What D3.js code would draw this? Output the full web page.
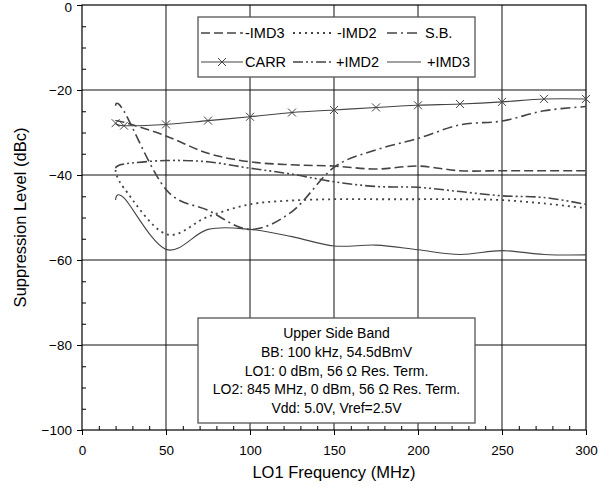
<!DOCTYPE html>
<html>
<head>
<meta charset="utf-8">
<script src="https://cdn.jsdelivr.net/npm/d3@7"></script>
<style>
  body { margin: 0; background: #fff; }
  svg { font-family: "Liberation Sans", Arial, sans-serif; }
  .axis path { display: none; }
  .axis line { stroke: #000; }
  .axis text { font-size: 13.5px; fill: #000; }
</style>
</head>
<body>
<div id="chart"></div>
<script>
// frequency points (MHz)
var freqs = [20, 25, 50, 75, 100, 125, 150, 175, 200, 225, 250, 275, 300];

// suppression levels (dBc)
var imd3Minus = [-27.3, -27.6, -30.8, -34.9, -36.9, -37.6, -37.9, -38.6, -37.9, -39.0, -39.0, -39.0, -39.0];
var imd2Minus = [-38.8, -43.1, -53.9, -49.8, -46.9, -46.0, -45.7, -45.7, -45.7, -45.7, -45.9, -46.7, -47.8];
var sideBand  = [-23.7, -25.0, -43.4, -48.3, -52.8, -48.6, -38.2, -34.1, -31.4, -28.2, -27.3, -24.9, -23.9];
var carr      = [-27.8, -28.4, -28.1, -27.2, -26.3, -25.3, -24.7, -24.1, -23.6, -23.3, -22.8, -22.1, -22.1];
var imd2Plus  = [-38.4, -37.4, -36.6, -36.9, -38.4, -39.8, -41.6, -42.7, -42.9, -43.9, -44.9, -45.3, -46.9];
var imd3Plus  = [-45.9, -45.4, -57.5, -52.8, -52.8, -54.5, -56.7, -56.5, -57.6, -58.7, -57.8, -58.7, -58.8];

var xTicks = [0, 50, 100, 150, 200, 250, 300];
var yTicks = [0, -20, -40, -60, -80, -100];

var notes = [
  "Upper Side Band",
  "BB: 100 kHz, 54.5dBmV",
  "LO1: 0 dBm, 56 \u03A9 Res. Term.",
  "LO2: 845 MHz, 0 dBm, 56 \u03A9 Res. Term.",
  "Vdd: 5.0V, Vref=2.5V"
];

var svgWidth = 606, svgHeight = 486;
var margin = {top: 5, right: 20, bottom: 56, left: 82};
var width = svgWidth - margin.left - margin.right;   // 504
var height = svgHeight - margin.top - margin.bottom; // 425

var svg = d3.select("#chart").append("svg")
  .attr("width", svgWidth)
  .attr("height", svgHeight);

var g = svg.append("g")
  .attr("transform", `translate(${margin.left}, ${margin.top})`);

var x = d3.scaleLinear().domain([0, 300]).range([0, width]);
var y = d3.scaleLinear().domain([-100, 0]).range([height, 0]);

// grid lines
g.append("g")
  .selectAll("line")
  .data([50, 100, 150, 200, 250])
  .enter().append("line")
  .attr("x1", d => x(d)).attr("x2", d => x(d))
  .attr("y1", 0).attr("y2", height)
  .attr("stroke", "#111").attr("stroke-width", 1);

g.append("g")
  .selectAll("line")
  .data([-20, -40, -60, -80])
  .enter().append("line")
  .attr("x1", 0).attr("x2", width)
  .attr("y1", d => y(d)).attr("y2", d => y(d))
  .attr("stroke", "#111").attr("stroke-width", 1);

// minor ticks (inside)
g.append("g").attr("class", "axis")
  .call(d3.axisLeft(y).tickValues(d3.range(-95, 0, 5).filter(v => v % 20 != 0)).tickSize(-4).tickFormat(""));
g.append("g").attr("class", "axis")
  .attr("transform", `translate(0, ${height})`)
  .call(d3.axisBottom(x).tickValues(d3.range(10, 300, 10).filter(v => v % 50 != 0)).tickSize(-4).tickFormat(""));

// major ticks
var yAxis = g.append("g").attr("class", "axis")
  .call(d3.axisLeft(y).tickValues(yTicks).tickSize(5).tickPadding(5).tickFormat(d3.format("d")));
yAxis.selectAll("text").filter(d => d == 0).attr("dy", "0.45em");
g.append("g").attr("class", "axis")
  .attr("transform", `translate(0, ${height})`)
  .call(d3.axisBottom(x).tickValues(xTicks).tickSize(5).tickPadding(10).tickFormat(d3.format("d")));

// frame
g.append("rect")
  .attr("x", 0).attr("y", 0)
  .attr("width", width).attr("height", height)
  .attr("fill", "none").attr("stroke", "#000").attr("stroke-width", 1.2);

var series = [
  {name: "-IMD3", values: imd3Minus, dash: "9,4", w: 1.6},
  {name: "-IMD2", values: imd2Minus, dash: "2,4", w: 1.8},
  {name: "S.B.", values: sideBand, dash: "10,4,2,4", w: 1.6},
  {name: "CARR", values: carr, dash: null, w: 1.1, marker: true},
  {name: "+IMD2", values: imd2Plus, dash: "10,3,2,3,2,3", w: 1.6},
  {name: "+IMD3", values: imd3Plus, dash: null, w: 1.1}
];

var line = d3.line()
  .x(d => x(d[0]))
  .y(d => y(d[1]))
  .curve(d3.curveCardinal.tension(0));

series.forEach(function(s) {
  var pts = freqs.map((f, i) => [f, s.values[i]]);
  g.append("path")
    .attr("d", line(pts))
    .attr("fill", "none")
    .attr("stroke", "#444")
    .attr("stroke-width", s.w)
    .attr("stroke-dasharray", s.dash);
  if (s.marker) {
    g.selectAll(null)
      .data(pts)
      .enter().append("path")
      .attr("transform", d => `translate(${x(d[0])}, ${y(d[1])})`)
      .attr("d", "M-4,-4L4,4M-4,4L4,-4")
      .attr("stroke", "#444").attr("stroke-width", 1);
  }
});

// legend
var legend = svg.append("g").attr("transform", "translate(198, 17)");
legend.append("rect")
  .attr("width", 277).attr("height", 60)
  .attr("fill", "#fff").attr("stroke", "#555").attr("stroke-width", 1.3);

var legendPos = [
  {lx: 3, tx: 47, ty: 16}, {lx: 95, tx: 139, ty: 16}, {lx: 189, tx: 227, ty: 16},
  {lx: 3, tx: 47, ty: 45}, {lx: 95, tx: 138, ty: 45}, {lx: 189, tx: 229, ty: 45}
];
series.forEach(function(s, i) {
  var p = legendPos[i];
  var lineEnd = (i == 2 || i == 5) ? p.lx + 34 : p.tx - 2;
  legend.append("line")
    .attr("x1", p.lx).attr("x2", lineEnd)
    .attr("y1", p.ty).attr("y2", p.ty)
    .attr("stroke", "#444").attr("stroke-width", s.w)
    .attr("stroke-dasharray", s.dash);
  if (s.marker) {
    var mx = (p.lx + lineEnd) / 2;
    legend.append("path")
      .attr("transform", `translate(${mx}, ${p.ty})`)
      .attr("d", "M-4,-4L4,4M-4,4L4,-4")
      .attr("stroke", "#444").attr("stroke-width", 1);
  }
  legend.append("text")
    .attr("x", p.tx).attr("y", p.ty)
    .attr("dy", "0.35em")
    .attr("font-size", 14.5)
    .text(s.name);
});

// conditions box
var note = svg.append("g").attr("transform", "translate(198, 318)");
note.append("rect")
  .attr("width", 277).attr("height", 105)
  .attr("fill", "#fff").attr("stroke", "#555").attr("stroke-width", 1.3);
note.selectAll("text")
  .data(notes)
  .enter().append("text")
  .attr("x", 138.5)
  .attr("y", (d, i) => 15 + i * 18.8)
  .attr("dy", "0.35em")
  .attr("text-anchor", "middle")
  .attr("font-size", 14)
  .text(d => d);

// axis titles
svg.append("text")
  .attr("x", margin.left + width / 2)
  .attr("y", 478)
  .attr("text-anchor", "middle")
  .attr("font-size", 16.5)
  .text("LO1 Frequency (MHz)");

svg.append("text")
  .attr("transform", `translate(20, ${margin.top + height / 2}) rotate(-90)`)
  .attr("dy", "0.35em")
  .attr("text-anchor", "middle")
  .attr("font-size", 16.5)
  .text("Suppression Level (dBc)");
</script>
</body>
</html>
